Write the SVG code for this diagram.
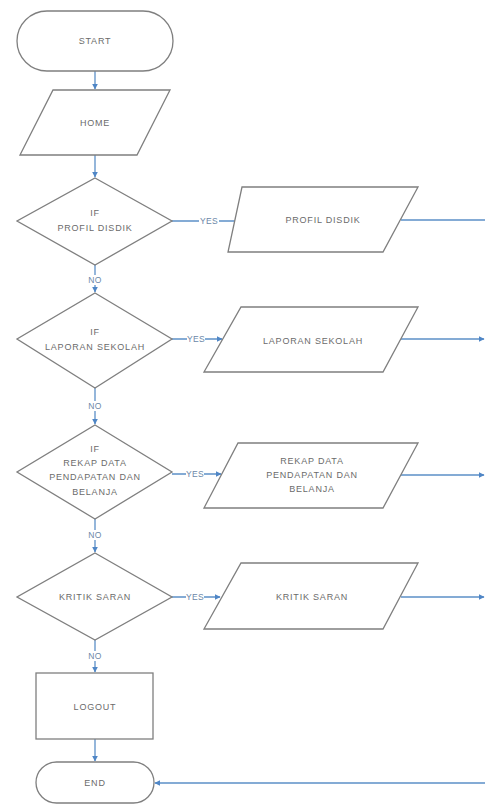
<svg xmlns="http://www.w3.org/2000/svg" width="485" height="805" viewBox="0 0 485 805">
<defs>
<style>
.s{fill:#fff;stroke:#7f7f7f;stroke-width:1.3}
.t{font-family:"Liberation Sans",Arial,sans-serif;font-size:9px;fill:#6b6b6b;text-anchor:middle;dominant-baseline:central;letter-spacing:0.8px}
.l{font-family:"Liberation Sans",Arial,sans-serif;font-size:8.5px;fill:#6b87a8;text-anchor:middle;dominant-baseline:central;letter-spacing:0.3px}
.c{fill:none;stroke:#5b8fc7;stroke-width:1.3}
.bg{fill:#fff}
</style>
<marker id="a" viewBox="0 0 10 10" refX="9" refY="5" markerWidth="6" markerHeight="6" orient="auto" markerUnits="userSpaceOnUse">
<path d="M0,0 L10,5 L0,10 z" fill="#4f86c6"/>
</marker>
</defs>
<rect width="485" height="805" fill="#fff"/>
<g id="connectors">
<line class="c" x1="95" y1="71" x2="95" y2="89" marker-end="url(#a)"/>
<line class="c" x1="95" y1="155" x2="95" y2="177" marker-end="url(#a)"/>
<line class="c" x1="95" y1="265" x2="95" y2="292" marker-end="url(#a)"/>
<line class="c" x1="95" y1="388" x2="95" y2="424" marker-end="url(#a)"/>
<line class="c" x1="95" y1="519" x2="95" y2="552" marker-end="url(#a)"/>
<line class="c" x1="95" y1="640" x2="95" y2="672" marker-end="url(#a)"/>
<line class="c" x1="95" y1="739" x2="95" y2="761" marker-end="url(#a)"/>
<line class="c" x1="172" y1="221" x2="240" y2="221" marker-end="url(#a)"/>
<line class="c" x1="172" y1="339" x2="222" y2="339" marker-end="url(#a)"/>
<line class="c" x1="172" y1="474" x2="221" y2="474" marker-end="url(#a)"/>
<line class="c" x1="172" y1="597" x2="220" y2="597" marker-end="url(#a)"/>
<line class="c" x1="401" y1="220" x2="485" y2="220"/>
<line class="c" x1="401" y1="339" x2="484" y2="339" marker-end="url(#a)"/>
<line class="c" x1="401" y1="475" x2="484" y2="475" marker-end="url(#a)"/>
<line class="c" x1="401" y1="597" x2="484" y2="597" marker-end="url(#a)"/>
<line class="c" x1="485" y1="783" x2="155" y2="783" marker-end="url(#a)"/>
<rect class="bg" x="199" y="216" width="20" height="10"/>
<text class="l" x="209" y="221">YES</text>
<rect class="bg" x="187" y="334" width="18" height="10"/>
<text class="l" x="196" y="339">YES</text>
<rect class="bg" x="186" y="469" width="18" height="10"/>
<text class="l" x="195" y="474">YES</text>
<rect class="bg" x="186" y="592" width="18" height="10"/>
<text class="l" x="195" y="597">YES</text>
<rect class="bg" x="88" y="275" width="14" height="10"/>
<text class="l" x="95" y="280">NO</text>
<rect class="bg" x="88" y="401" width="14" height="10"/>
<text class="l" x="95" y="406">NO</text>
<rect class="bg" x="88" y="530" width="14" height="10"/>
<text class="l" x="95" y="535">NO</text>
<rect class="bg" x="88" y="651" width="14" height="10"/>
<text class="l" x="95" y="656">NO</text>
</g>
<g id="start">
<rect class="s" x="17" y="11" width="156" height="60" rx="30"/>
<text class="t" x="95" y="41">START</text>
</g>
<g id="home">
<polygon class="s" points="53,90 170,90 137,155 20,155"/>
<text class="t" x="95" y="123">HOME</text>
</g>
<g id="if-profil">
<polygon class="s" points="95,178 172,221 95,265 17,221"/>
<text class="t" x="95" y="213">IF</text>
<text class="t" x="95" y="228">PROFIL DISDIK</text>
</g>
<g id="profil">
<polygon class="s" points="242,187 418,187 383,252 228,252"/>
<text class="t" x="323" y="220">PROFIL DISDIK</text>
</g>
<g id="if-laporan">
<polygon class="s" points="95,293 172,339 95,388 17,339"/>
<text class="t" x="95" y="332">IF</text>
<text class="t" x="95" y="347">LAPORAN SEKOLAH</text>
</g>
<g id="laporan">
<polygon class="s" points="241,307 418,307 383,372 204,372"/>
<text class="t" x="313" y="341">LAPORAN SEKOLAH</text>
</g>
<g id="if-rekap">
<polygon class="s" points="95,425 172,472 95,519 17,472"/>
<text class="t" x="95" y="449">IF</text>
<text class="t" x="95" y="463">REKAP DATA</text>
<text class="t" x="95" y="477">PENDAPATAN DAN</text>
<text class="t" x="95" y="492">BELANJA</text>
</g>
<g id="rekap">
<polygon class="s" points="238,443 418,443 383,508 204,508"/>
<text class="t" x="312" y="461">REKAP DATA</text>
<text class="t" x="312" y="475">PENDAPATAN DAN</text>
<text class="t" x="312" y="489">BELANJA</text>
</g>
<g id="if-kritik">
<polygon class="s" points="95,553 172,597 95,640 17,597"/>
<text class="t" x="95" y="597">KRITIK SARAN</text>
</g>
<g id="kritik">
<polygon class="s" points="241,563 418,563 383,629 204,629"/>
<text class="t" x="312" y="597">KRITIK SARAN</text>
</g>
<g id="logout">
<rect class="s" x="36" y="673" width="117" height="66"/>
<text class="t" x="95" y="707">LOGOUT</text>
</g>
<g id="end">
<rect class="s" x="36" y="762" width="118" height="41" rx="20.5"/>
<text class="t" x="95" y="783">END</text>
</g>
</svg>
